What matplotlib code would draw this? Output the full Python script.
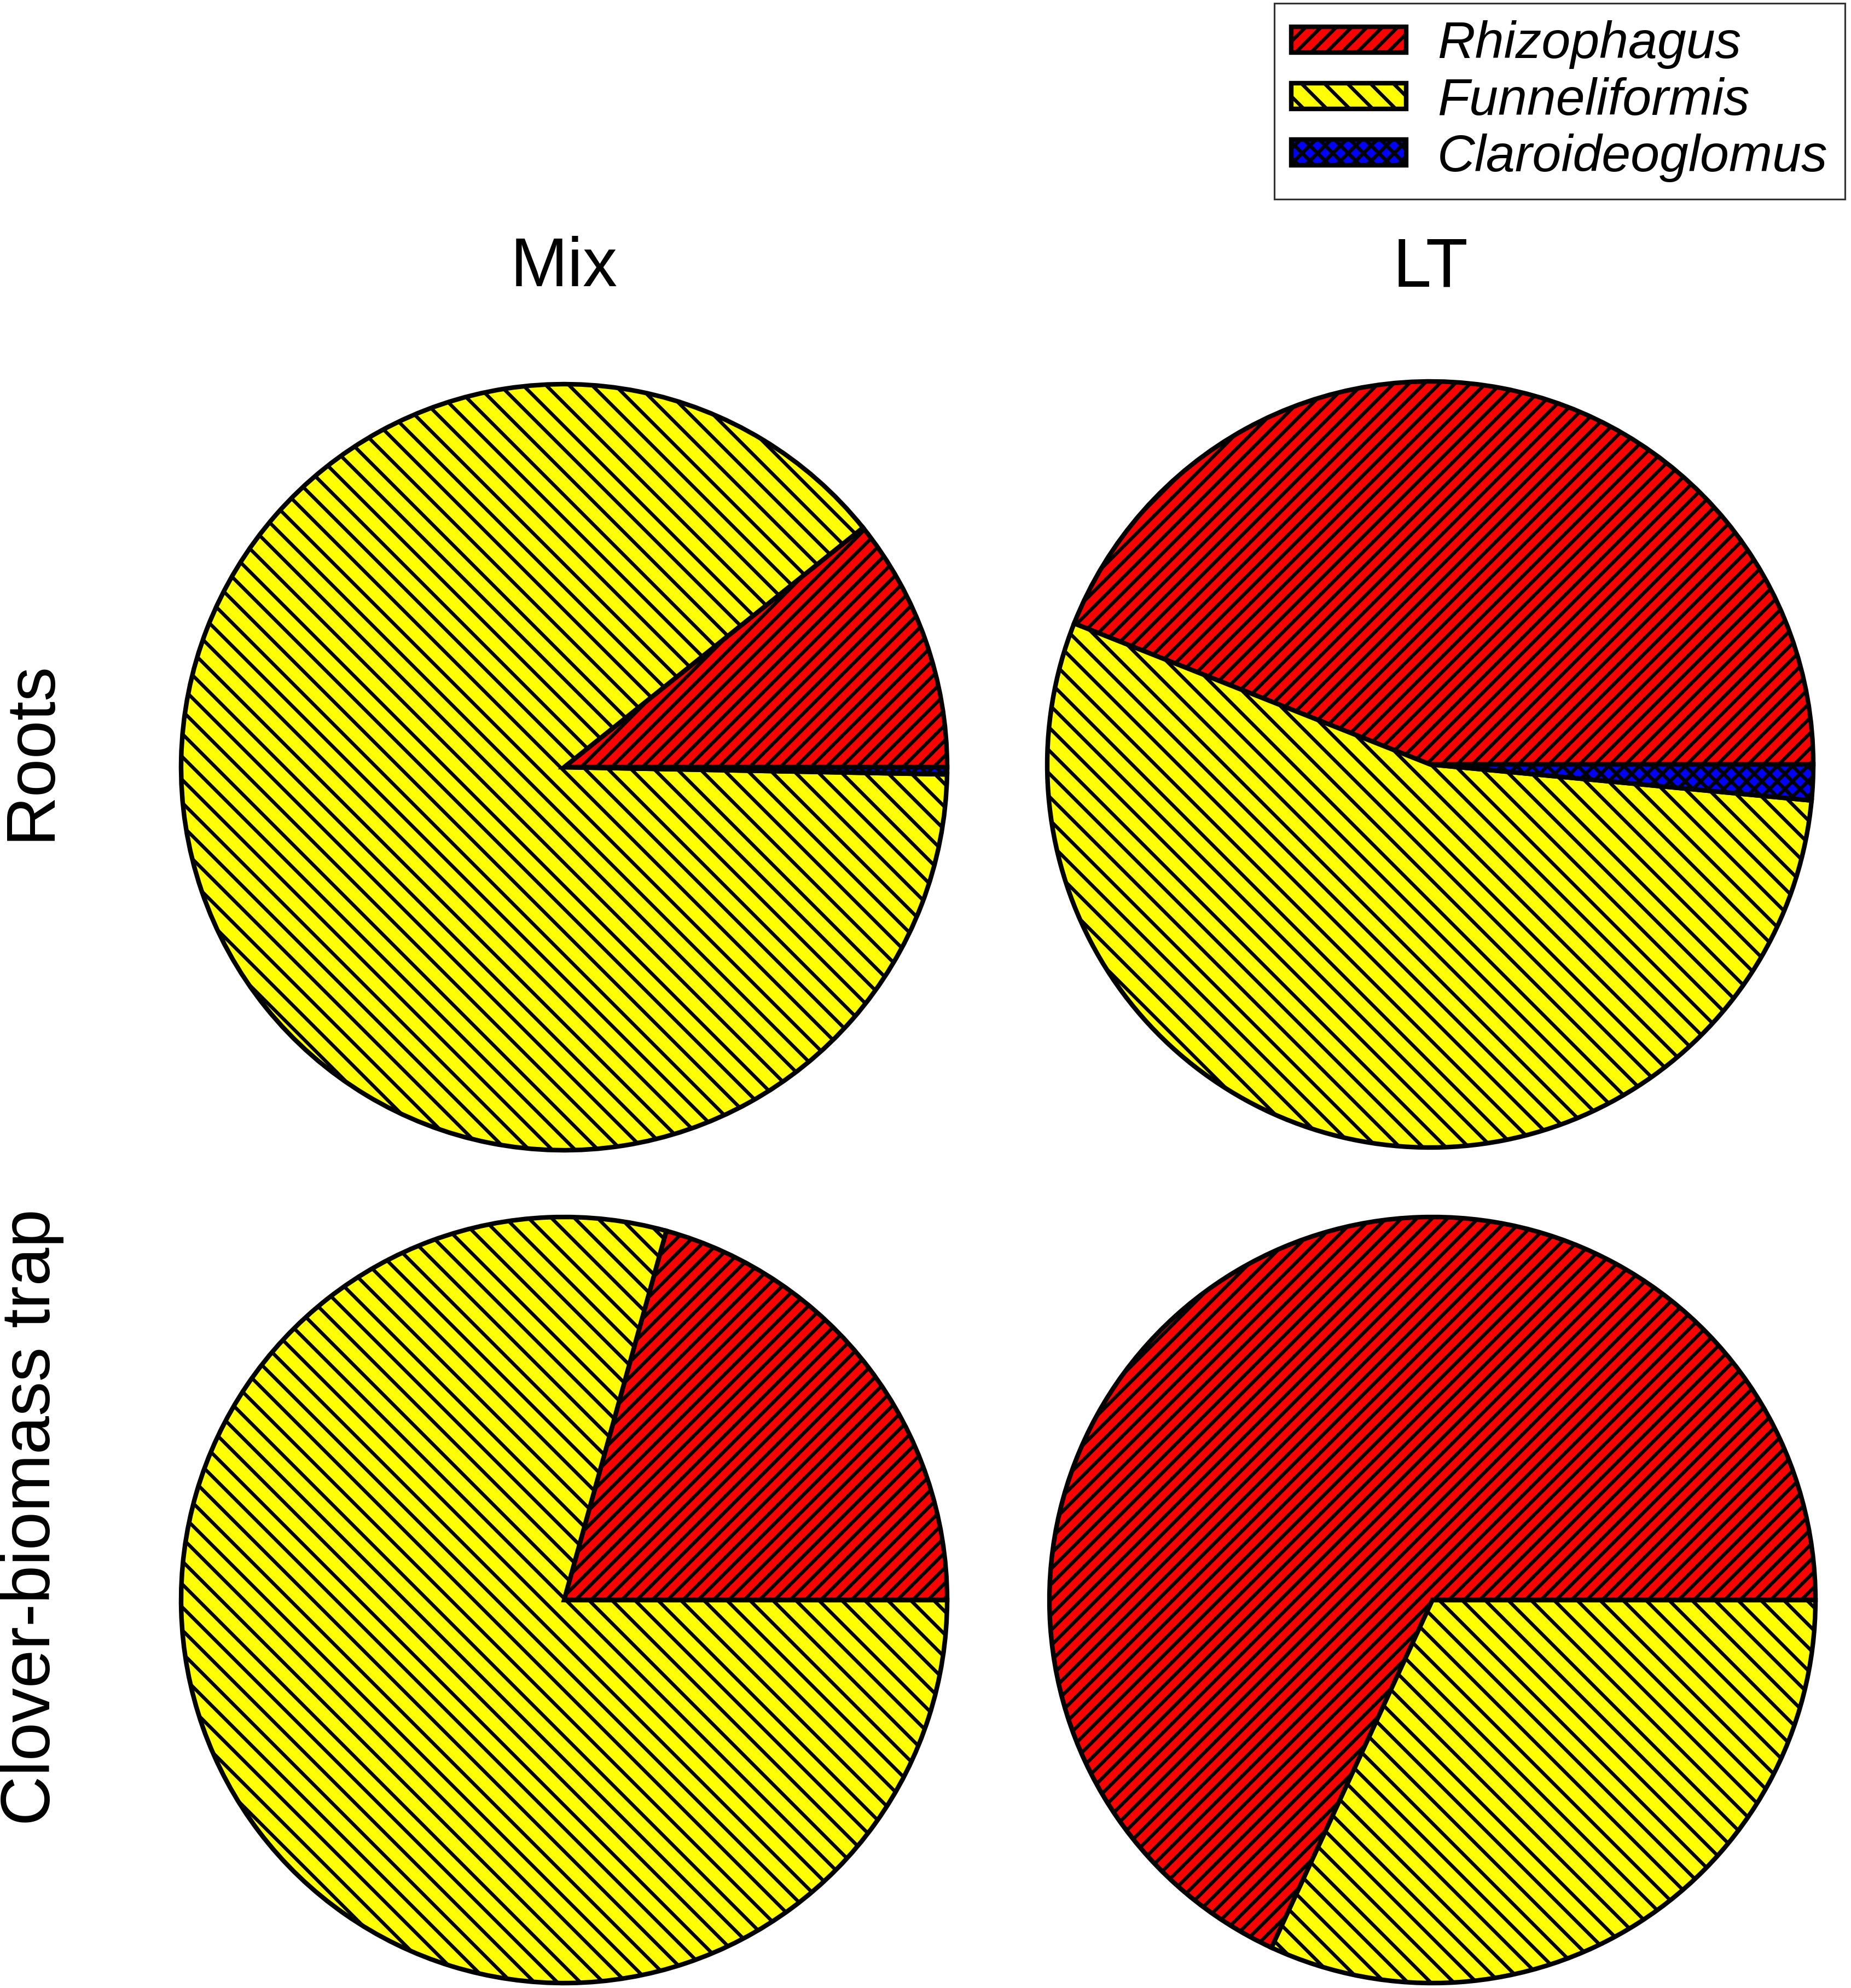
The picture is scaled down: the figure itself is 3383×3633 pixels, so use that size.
import matplotlib
matplotlib.use('Agg')
import matplotlib.pyplot as plt
from matplotlib.patches import Patch

# genus shares (%) per treatment, order: Rhizophagus, Funneliformis, Claroideoglomus
genera = ['Rhizophagus', 'Funneliformis', 'Claroideoglomus']
colors = ['#ff0000', '#ffff00', '#0000ff']
hatches = ['///', '\\\\', 'xxx']

roots_mix = [10.75, 88.95, 0.3]
roots_lt = [44.0, 54.5, 1.5]
trap_mix = [20.7, 79.3, 0.0]
trap_lt = [68.1, 31.9, 0.0]

col_titles = ['Mix', 'LT']
row_titles = ['Roots', 'Clover-biomass trap']

plt.rcParams['font.family'] = ['Liberation Sans', 'DejaVu Sans']
plt.rcParams['hatch.linewidth'] = 1.85
plt.rcParams['hatch.color'] = 'black'
plt.rcParams['path.simplify'] = False

DPI = 252
W, H = 3383, 3633
fig = plt.figure(figsize=(W / DPI, H / DPI), dpi=DPI)
fig.set_facecolor('white')

R = 700  # pie radius in px
LIM = 1.02


def pie_axes(cx, cy, values):
    half = R * LIM
    ax = fig.add_axes([(cx - half) / W, (H - cy - half) / H, 2 * half / W, 2 * half / H])
    wedges, _ = ax.pie(values, colors=colors, startangle=0, counterclock=True,
                       wedgeprops=dict(edgecolor='black', linewidth=2.4))
    for w, h in zip(wedges, hatches):
        w.set_hatch(h)
    ax.set_xlim(-LIM, LIM)
    ax.set_ylim(-LIM, LIM)
    ax.set_aspect('equal')
    ax.axis('off')
    return ax


pie_axes(1031, 1402, roots_mix)
pie_axes(2614, 1397, roots_lt)
pie_axes(1031, 2924, trap_mix)
pie_axes(2618, 2924, trap_lt)

fs = 36
for x, t in zip([1031, 2614], col_titles):
    fig.text(x / W, 1 - 490 / H, t, ha='center', va='center', fontsize=fs)
for y, t in zip([1372, 2773], row_titles):
    fig.text(58 / W, 1 - y / H, t, ha='center', va='center', rotation=90, fontsize=fs)

handles = [Patch(facecolor=c, edgecolor='black', hatch=h, linewidth=2.4)
           for c, h in zip(colors, hatches)]
leg = fig.legend(handles, genera, loc='upper right',
                 bbox_to_anchor=(3372 / W, 1 - 6 / H), bbox_transform=fig.transFigure,
                 prop=dict(style='italic', size=27.2),
                 frameon=True, fancybox=False, borderaxespad=0,
                 handlelength=2.2, handleheight=0.38, handletextpad=0.6,
                 labelspacing=0.15, borderpad=0.33)
leg.get_frame().set_edgecolor('black')
leg.get_frame().set_linewidth(0.9)

fig.savefig('out.png', dpi=DPI, facecolor='white')
